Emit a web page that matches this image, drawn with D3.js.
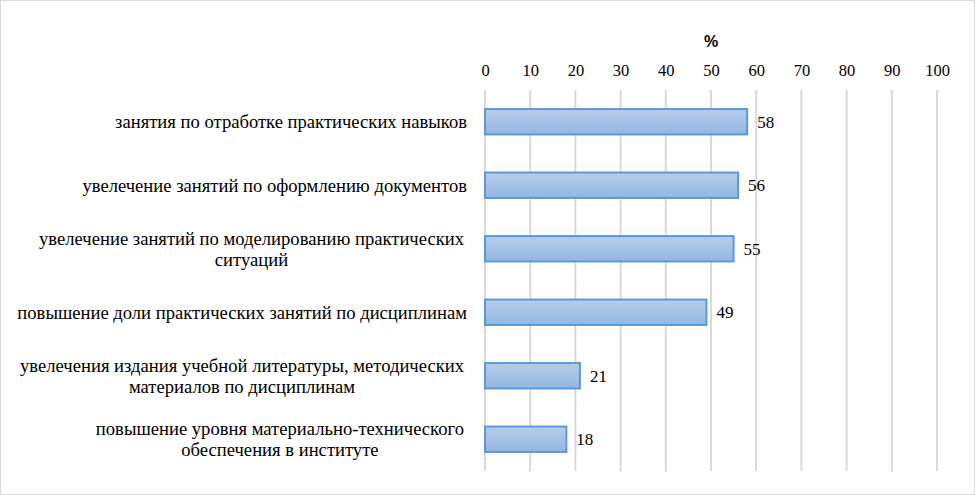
<!DOCTYPE html>
<html><head><meta charset="utf-8">
<script src="https://cdn.jsdelivr.net/npm/d3@7"></script>
</head>
<body style="margin:0;background:#fff">
<svg id="chart" width="975" height="495" style="font-family:Liberation Serif"></svg>
<script>
const categories = [
  ["занятия по отработке практических навыков"],
  ["увелечение занятий по оформлению документов"],
  ["увелечение занятий по моделированию практических", "ситуаций"],
  ["повышение доли практических занятий по дисциплинам"],
  ["увелечения издания учебной литературы, методических", "материалов по дисциплинам"],
  ["повышение уровня материально-технического", "обеспечения в институте"]
];
const values = [58, 56, 55, 49, 21, 18];
const tickValues = [0, 10, 20, 30, 40, 50, 60, 70, 80, 90, 100];
const axisTitle = "%";

const W = 975, H = 495;
const m = {left: 485, right: 38, top: 90, bottom: 24};
const svg = d3.select("#chart");

// measure font size so that the first label matches the reference width
const probe = svg.append("text").style("font-family", "Liberation Serif").style("font-size", "16px").text(categories[0][0]);
const pw = probe.node().getComputedTextLength();
probe.remove();
const FS = Math.max(15, Math.min(19, 16 * 352 / (pw || 352)));
const fsPx = FS + "px";

svg.append("rect").attr("x", 0.5).attr("y", 0.5).attr("width", W - 1).attr("height", H - 1)
  .attr("fill", "#fff").attr("stroke", "#d9d9d9");

const defs = svg.append("defs");
const grad = defs.append("linearGradient").attr("id", "barGrad")
  .attr("x1", 0).attr("y1", 0).attr("x2", 0).attr("y2", 1);
grad.append("stop").attr("offset", "0%").attr("stop-color", "#b7cdeb");
grad.append("stop").attr("offset", "100%").attr("stop-color", "#94b6e2");

const x = d3.scaleLinear().domain([0, 100]).range([m.left, W - m.right]);
const y = d3.scaleBand().domain(d3.range(values.length)).range([m.top, H - m.bottom])
  .paddingInner(0.6).paddingOuter(0.3);

svg.append("g").selectAll("line").data(tickValues).join("line")
  .attr("x1", d => x(d)).attr("x2", d => x(d))
  .attr("y1", m.top).attr("y2", H - m.bottom)
  .attr("stroke", "#d9d9d9").attr("stroke-width", 2);

const axis = d3.axisTop(x).tickValues(tickValues).tickSize(0).tickPadding(0);
const gAxis = svg.append("g").attr("transform", `translate(0,${m.top - 14})`).call(axis);
gAxis.attr("font-family", null).attr("font-size", null);
gAxis.select(".domain").remove();
gAxis.selectAll("text").attr("fill", "#000")
  .style("font-family", "Liberation Serif").style("font-size", "16.5px");

svg.append("text").attr("x", (x(0) + x(100)) / 2).attr("y", 47)
  .attr("text-anchor", "middle").style("font-family", "Liberation Sans")
  .style("font-weight", "bold").style("font-size", "16px").text(axisTitle);

svg.append("g").selectAll("rect").data(values).join("rect")
  .attr("x", x(0)).attr("y", (d, i) => y(i))
  .attr("width", d => x(d) - x(0)).attr("height", y.bandwidth())
  .attr("fill", "url(#barGrad)").attr("stroke", "#5b9bd5").attr("stroke-width", 2);

svg.append("g").selectAll("text").data(values).join("text")
  .style("font-family", "Liberation Serif").style("font-size", "17px")
  .attr("x", d => x(d) + 10).attr("y", (d, i) => y(i) + y.bandwidth() / 2)
  .attr("dy", "0.35em").text(d => d);

const labelRight = 467;
const lineH = 21;
const gLab = svg.append("g");
categories.forEach((lines, i) => {
  const cy = y(i) + y.bandwidth() / 2;
  const t = gLab.append("text").style("font-family", "Liberation Serif").style("font-size", fsPx);
  if (lines.length === 1) {
    t.attr("x", labelRight).attr("y", cy).attr("dy", "0.35em").attr("text-anchor", "end").text(lines[0]);
  } else {
    const tmp = gLab.append("text").style("font-family", "Liberation Serif").style("font-size", fsPx).text(lines[0]);
    const w = tmp.node().getComputedTextLength();
    tmp.remove();
    const cx = labelRight - 3 - w / 2;
    t.attr("text-anchor", "middle");
    lines.forEach((ln, k) => {
      t.append("tspan").attr("x", cx)
        .attr("y", cy + (k - (lines.length - 1) / 2) * lineH)
        .attr("dy", "0.35em").text(ln);
    });
  }
});
</script>
</body></html>
